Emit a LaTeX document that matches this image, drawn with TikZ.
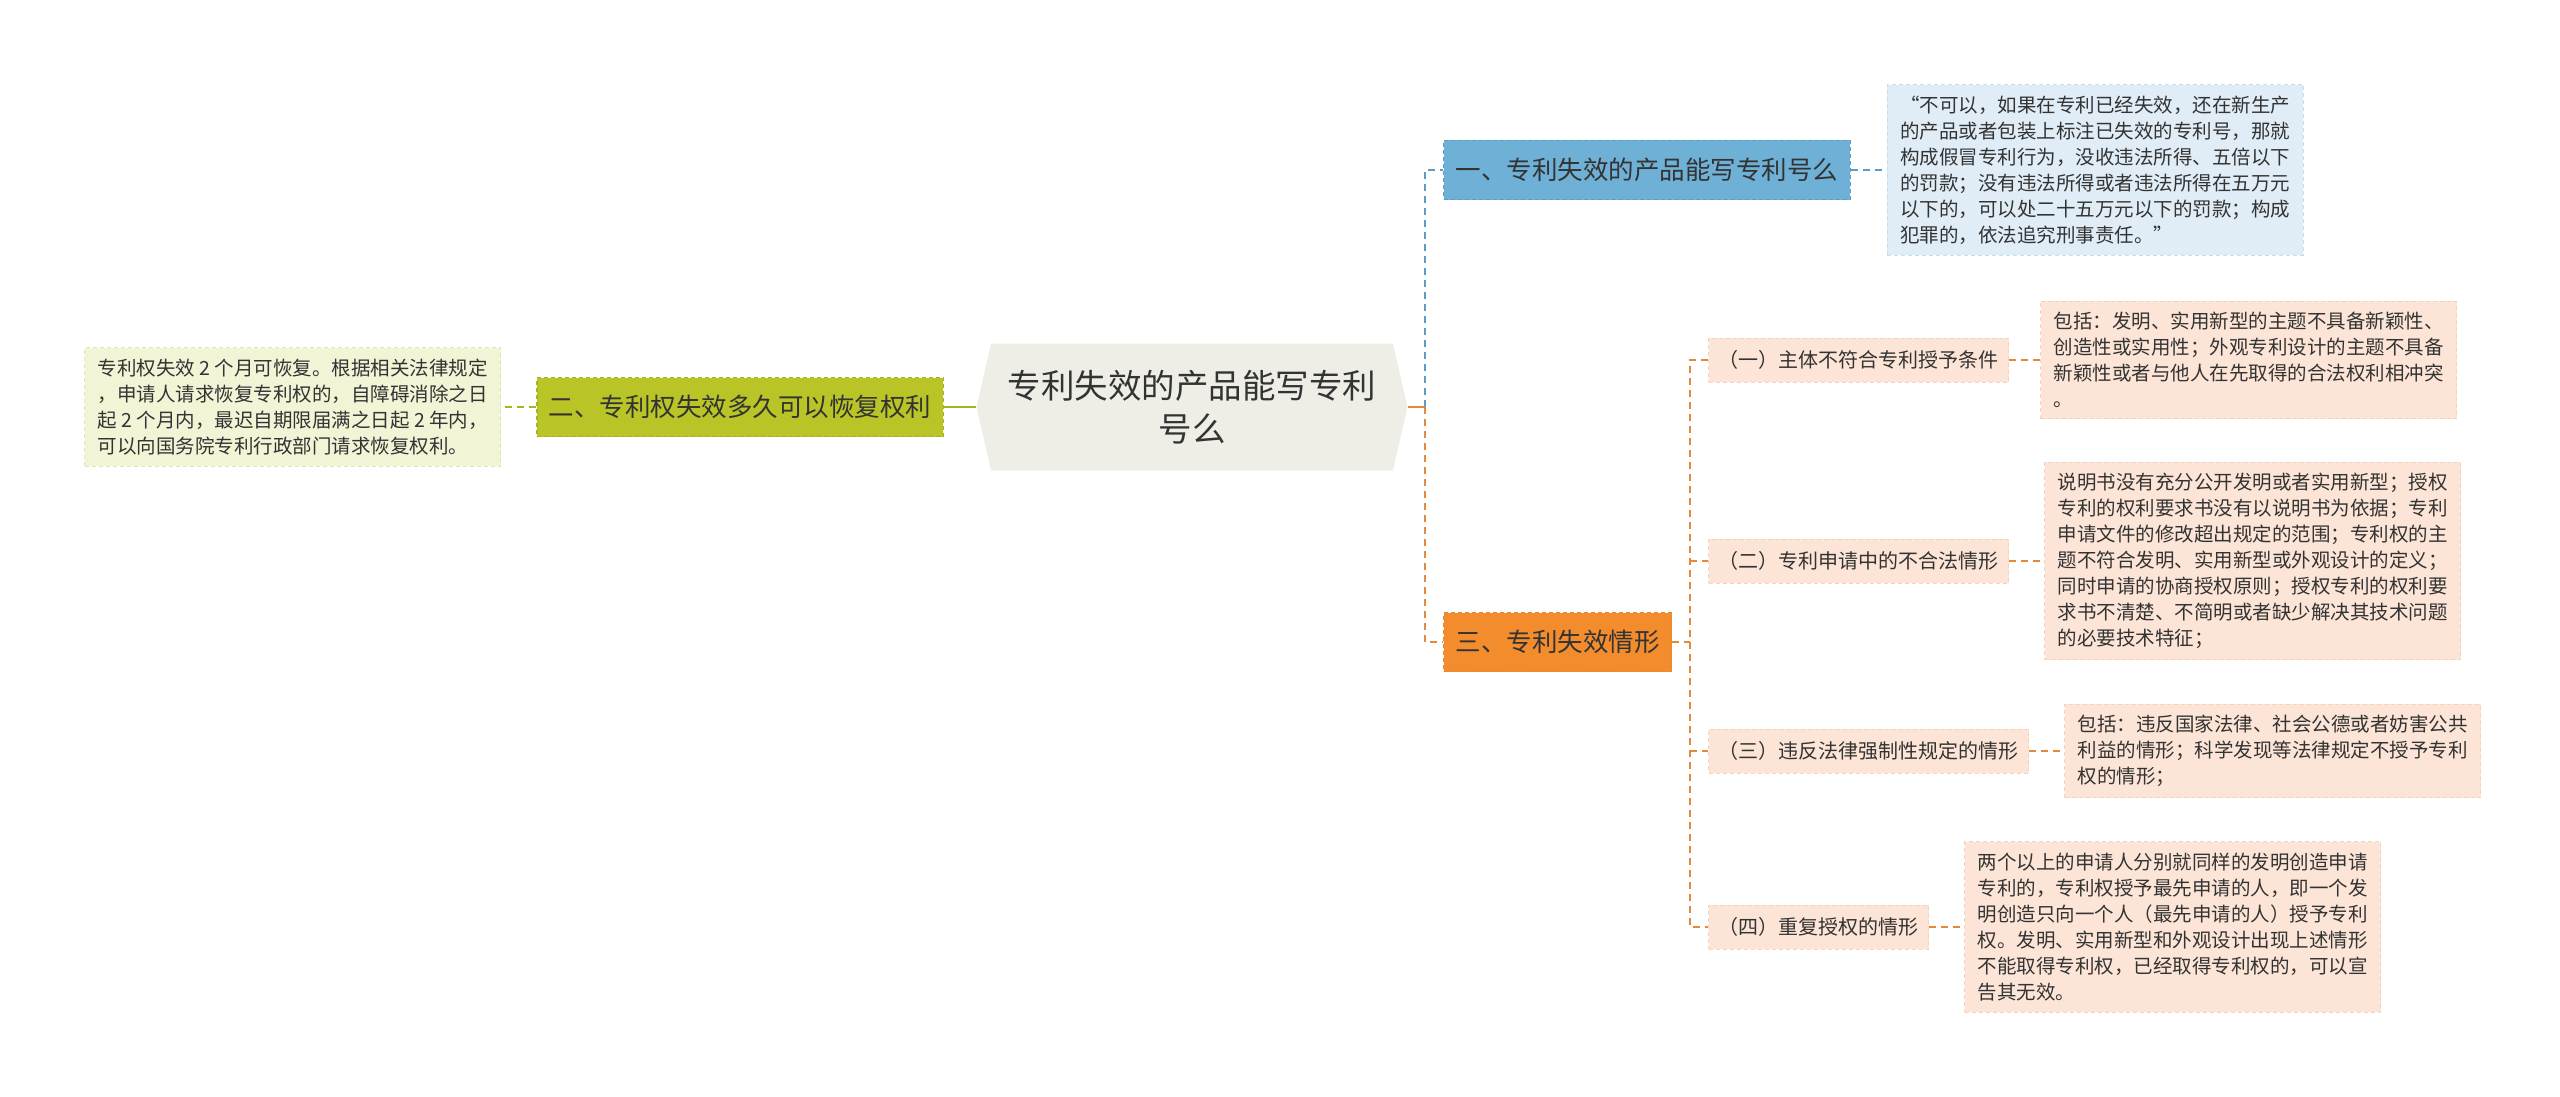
\documentclass[tikz,border=0pt]{standalone}
\usepackage{fontspec}
\setmainfont{Noto Sans CJK SC}
\usetikzlibrary{positioning,shapes.symbols,calc}

\definecolor{rootfill}{HTML}{EEEEE6}
\definecolor{bluefill}{HTML}{6FB0D6}
\definecolor{blueline}{HTML}{5C9CC6}
\definecolor{blueleaf}{HTML}{E0EDF6}
\definecolor{blueleafline}{HTML}{C8DDEC}
\definecolor{greenfill}{HTML}{B9C526}
\definecolor{greenline}{HTML}{A5B424}
\definecolor{greenleaf}{HTML}{F2F4D6}
\definecolor{greenleafline}{HTML}{E0E4B8}
\definecolor{orangefill}{HTML}{F28C2C}
\definecolor{orangeline}{HTML}{E4883A}
\definecolor{peach}{HTML}{FCE5D6}
\definecolor{peachline}{HTML}{F4D2BC}
\definecolor{txt}{HTML}{333333}

\begin{document}
\begin{tikzpicture}[x=1pt, y=-1pt, text=txt, font=\fontsize{20}{26}\selectfont,
    root/.style={signal, signal to=east and west, signal pointer angle=154, fill=rootfill,
      minimum width=431pt, minimum height=127pt, align=center, font=\fontsize{33.5}{43}\selectfont},
    topic/.style={draw, dash pattern=on 4pt off 3pt, line width=1.2pt, minimum height=59pt,
      inner xsep=12pt, font=\fontsize{25.5}{30}\selectfont},
    leaf/.style={draw, dash pattern=on 4pt off 3pt, line width=1pt, minimum width=416pt,
      inner ysep=11pt, align=left, font=\fontsize{19.5}{26}\selectfont},
    sub/.style={fill=peach, draw=peachline, dash pattern=on 4pt off 3pt, line width=1pt,
      minimum height=44pt, inner xsep=10pt, anchor=west},
    link/.style={line width=2.2pt, dash pattern=on 7pt off 5pt}]
  \fill[white] (0,0) rectangle (2560,1097);
  \useasboundingbox (0,0) rectangle (2560,1097);

  % centre and main topics
  \node[root] (root) at (1192,407) {专利失效的产品能写专利\\号么};
  \node[topic, fill=bluefill, draw=blueline, anchor=west] (t1) at (1443,170) {一、专利失效的产品能写专利号么};
  \node[topic, fill=greenfill, draw=greenline, anchor=east] (t2) at (944,407) {二、专利权失效多久可以恢复权利};
  \node[topic, fill=orangefill, draw=orangeline, anchor=west] (t3) at (1443,642) {三、专利失效情形};

  \node[leaf, fill=blueleaf, draw=blueleafline, right=36pt of t1] (n1) {“不可以，如果在专利已经失效，还在新生产\\的产品或者包装上标注已失效的专利号，那就\\构成假冒专利行为，没收违法所得、五倍以下\\的罚款；没有违法所得或者违法所得在五万元\\以下的，可以处二十五万元以下的罚款；构成\\犯罪的，依法追究刑事责任。”};
  \node[leaf, fill=greenleaf, draw=greenleafline, left=35pt of t2] (n2) {专利权失效 2 个月可恢复。根据相关法律规定\\，申请人请求恢复专利权的，自障碍消除之日\\起 2 个月内，最迟自期限届满之日起 2 年内，\\可以向国务院专利行政部门请求恢复权利。};

  % cases under topic three
  \node[sub] (s1) at (1708,360) {（一）主体不符合专利授予条件};
  \node[sub] (s2) at (1708,561) {（二）专利申请中的不合法情形};
  \node[sub] (s3) at (1708,751) {（三）违反法律强制性规定的情形};
  \node[sub] (s4) at (1708,927) {（四）重复授权的情形};

  \node[leaf, fill=peach, draw=peachline, right=31pt of s1] (m1) {包括：发明、实用新型的主题不具备新颖性、\\创造性或实用性；外观专利设计的主题不具备\\新颖性或者与他人在先取得的合法权利相冲突\\。};
  \node[leaf, fill=peach, draw=peachline, right=35pt of s2] (m2) {说明书没有充分公开发明或者实用新型；授权\\专利的权利要求书没有以说明书为依据；专利\\申请文件的修改超出规定的范围；专利权的主\\题不符合发明、实用新型或外观设计的定义；\\同时申请的协商授权原则；授权专利的权利要\\求书不清楚、不简明或者缺少解决其技术问题\\的必要技术特征；};
  \node[leaf, fill=peach, draw=peachline, right=35pt of s3] (m3) {包括：违反国家法律、社会公德或者妨害公共\\利益的情形；科学发现等法律规定不授予专利\\权的情形；};
  \node[leaf, fill=peach, draw=peachline, right=35pt of s4] (m4) {两个以上的申请人分别就同样的发明创造申请\\专利的，专利权授予最先申请的人，即一个发\\明创造只向一个人（最先申请的人）授予专利\\权。发明、实用新型和外观设计出现上述情形\\不能取得专利权，已经取得专利权的，可以宣\\告其无效。};

  % connectors
  \coordinate (rj) at (1425,407);
  \coordinate (oj) at (1690,642);
  \draw[line width=2.4pt, greenline] (root.west) -- (t2.east);
  \draw[link, greenline] (t2.west) -- (n2.east);
  \draw[line width=2.4pt, orangeline] (root.east) -- (rj);
  \draw[link, blueline] (rj) |- (t1.west);
  \draw[link, orangeline] (rj) |- (t3.west);
  \draw[link, blueline] (t1.east) -- (n1.west);
  \draw[link, orangeline] (t3.east) -- (oj);
  \draw[link, orangeline] (s1.west) -| (oj) |- (s4.west);
  \draw[link, orangeline] (oj |- s2.west) -- (s2.west);
  \draw[link, orangeline] (oj |- s3.west) -- (s3.west);
  \foreach \i in {1,...,4}
    \draw[link, orangeline] (s\i.east) -- (m\i.west);
\end{tikzpicture}
\end{document}
